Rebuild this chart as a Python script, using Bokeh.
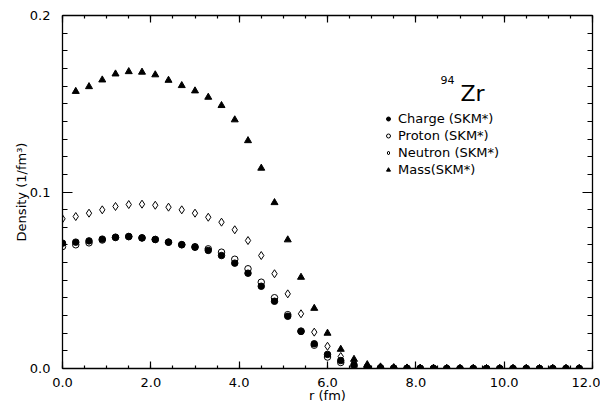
import numpy as np
from bokeh.plotting import figure
from bokeh.models import (Range1d, LinearAxis, SingleIntervalTicker, PrintfTickFormatter,
                          CustomJSTickFormatter, Label, Legend, LegendItem)
from bokeh.embed import file_html
from bokeh.resources import INLINE

# ---------------- data ----------------
r = [0.0, 0.3, 0.6, 0.9, 1.2, 1.5, 1.8, 2.1, 2.4, 2.7,
     3.0, 3.3, 3.6, 3.9, 4.2, 4.5, 4.8, 5.1, 5.4, 5.7,
     6.0, 6.3, 6.6, 6.9, 7.2, 7.5, 7.8, 8.1, 8.4, 8.7,
     9.0, 9.3, 9.6, 9.9, 10.2, 10.5, 10.8, 11.1, 11.4, 11.7]

charge = [0.0710, 0.0716, 0.0723, 0.0733, 0.0744, 0.0748, 0.0740, 0.0731, 0.0716, 0.0701,
          0.0687, 0.0669, 0.0640, 0.0597, 0.0540, 0.0466, 0.0381, 0.0296, 0.0210, 0.0140,
          0.0080, 0.0045, 0.0020, 0.0008, 0.0004, 0.0002, 0.0001, 0.0001, 0.0001, 0.0000,
          0.0000, 0.0000, 0.0000, 0.0000, 0.0000, 0.0000, 0.0000, 0.0000, 0.0000, 0.0000]

proton = [0.0691, 0.0701, 0.0712, 0.0728, 0.0742, 0.0747, 0.0740, 0.0731, 0.0716, 0.0702,
          0.0690, 0.0678, 0.0659, 0.0619, 0.0565, 0.0489, 0.0401, 0.0305, 0.0212, 0.0132,
          0.0065, 0.0034, 0.0012, 0.0005, 0.0003, 0.0002, 0.0001, 0.0001, 0.0000, 0.0000,
          0.0000, 0.0000, 0.0000, 0.0000, 0.0000, 0.0000, 0.0000, 0.0000, 0.0000, 0.0000]

neutron = [0.0848, 0.0861, 0.0880, 0.0899, 0.0918, 0.0929, 0.0931, 0.0925, 0.0914, 0.0899,
           0.0880, 0.0857, 0.0829, 0.0786, 0.0725, 0.0640, 0.0537, 0.0423, 0.0310, 0.0206,
           0.0126, 0.0068, 0.0030, 0.0012, 0.0005, 0.0003, 0.0002, 0.0001, 0.0001, 0.0000,
           0.0000, 0.0000, 0.0000, 0.0000, 0.0000, 0.0000, 0.0000, 0.0000, 0.0000, 0.0000]

r_mass = [0.3, 0.6, 0.9, 1.2, 1.5, 1.8, 2.1, 2.4, 2.7,
          3.0, 3.3, 3.6, 3.9, 4.2, 4.5, 4.8, 5.1, 5.4, 5.7,
          6.0, 6.3, 6.6, 6.9, 7.2, 7.5, 7.8, 8.1, 8.4, 8.7,
          9.0, 9.3, 9.6, 9.9, 10.2, 10.5, 10.8, 11.1, 11.4, 11.7]

mass = [0.1570, 0.1597, 0.1635, 0.1669, 0.1682, 0.1679, 0.1664, 0.1633, 0.1603,
        0.1573, 0.1537, 0.1490, 0.1409, 0.1291, 0.1135, 0.0940, 0.0729, 0.0517, 0.0341,
        0.0200, 0.0109, 0.0052, 0.0022, 0.0009, 0.0005, 0.0003, 0.0002, 0.0001, 0.0000,
        0.0000, 0.0000, 0.0000, 0.0000, 0.0000, 0.0000, 0.0000, 0.0000, 0.0000, 0.0000]

series_labels = ["Charge (SKM*)", "Proton (SKM*)", "Neutron (SKM*)", "Mass(SKM*)"]

X0, X1, Y0, Y1 = 0.0, 12.0, 0.0, 0.2
FONT = "DejaVu Sans"

# ---------------- figure ----------------
p = figure(frame_width=530, frame_height=353,
           x_range=Range1d(X0, X1), y_range=Range1d(Y0, Y1),
           output_backend="svg", toolbar_location=None,
           min_border_left=62, min_border_right=8,
           min_border_top=15, min_border_bottom=37,
           x_axis_location=None, y_axis_location=None)
p.xgrid.visible = False
p.ygrid.visible = False
p.outline_line_color = None
p.background_fill_color = None
p.border_fill_color = "white"


def style_axis(ax, is_x, labels):
    if is_x:
        ax.ticker = SingleIntervalTicker(interval=2.0, num_minor_ticks=4)
        ax.major_tick_in = 7
        ax.minor_tick_in = 3
    else:
        ax.ticker = SingleIntervalTicker(interval=0.1, num_minor_ticks=10)
        ax.major_tick_in = 10
        ax.minor_tick_in = 5
    ax.major_tick_out = 0
    ax.minor_tick_out = 0
    ax.axis_line_color = "black"
    ax.axis_line_width = 1.3
    ax.major_tick_line_color = "black"
    ax.minor_tick_line_color = "black"
    ax.major_tick_line_width = 1.2
    ax.minor_tick_line_width = 1.2
    if labels:
        ax.formatter = PrintfTickFormatter(format="%.1f")
        ax.major_label_text_font = FONT
        ax.major_label_text_font_size = "13px"
        ax.major_label_text_color = "black"
        ax.major_label_standoff = 9 if is_x else 12
        ax.axis_label_text_font = FONT
        ax.axis_label_text_font_size = "13px"
        ax.axis_label_text_font_style = "normal"
        ax.axis_label_text_color = "black"
        ax.axis_label_standoff = -2
    else:
        ax.formatter = CustomJSTickFormatter(code="return ''")
        ax.major_label_text_color = None
        ax.major_label_standoff = 0


bottom = LinearAxis(axis_label="r (fm)")
style_axis(bottom, True, True)
p.add_layout(bottom, "below")
top = LinearAxis()
style_axis(top, True, False)
p.add_layout(top, "above")
left = LinearAxis(axis_label="Density (1/fm³)")
style_axis(left, False, True)
p.add_layout(left, "left")
right = LinearAxis()
style_axis(right, False, False)
p.add_layout(right, "right")

# ---------------- data glyphs ----------------
r_c = p.scatter(r, charge, marker="circle", size=6.5, fill_color="black", line_color="black")
r_p = p.scatter(r, proton, marker="circle", size=6.5, fill_color=None, line_color="black", line_width=1)
r_n = p.scatter(r, neutron, marker="diamond", size=8,
                fill_color=None, line_color="black", line_width=1)
r_m = p.scatter(r_mass, mass, marker="triangle", size=7, fill_color="black", line_color="black")

legend = Legend(items=[LegendItem(label=series_labels[0], renderers=[r_c]),
                       LegendItem(label=series_labels[1], renderers=[r_p]),
                       LegendItem(label=series_labels[2], renderers=[r_n]),
                       LegendItem(label=series_labels[3], renderers=[r_m])],
                location=(321, 190), orientation="vertical",
                background_fill_alpha=0, border_line_alpha=0,
                padding=0, margin=0, spacing=0,
                glyph_width=10, glyph_height=17, label_height=17,
                label_standoff=5,
                label_text_font=FONT, label_text_font_size="13px",
                label_text_color="black")
p.add_layout(legend)

# ---------------- texts ----------------
p.add_layout(Label(x=8.56, y=0.1632, text="94", text_font=FONT, text_font_size="11px",
                   text_color="black", text_baseline="alphabetic", text_align="left"))
p.add_layout(Label(x=9.01, y=0.1558, text="Zr", text_font=FONT, text_font_size="22px",
                   text_color="black", text_baseline="alphabetic", text_align="left"))

open("out.html", "w").write(file_html(p, INLINE))
